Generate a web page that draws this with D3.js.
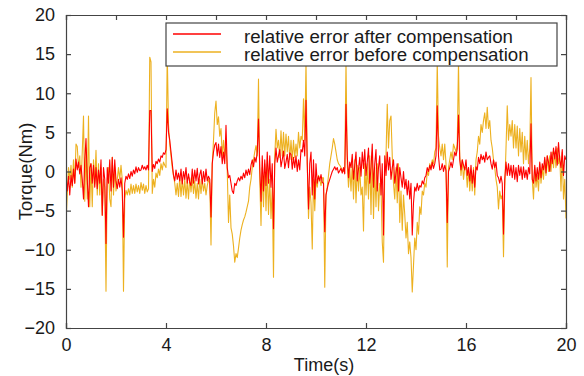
<!DOCTYPE html>
<html>
<head>
<meta charset="utf-8">
<script src="https://cdn.jsdelivr.net/npm/d3@7"></script>
<style>
  body { margin: 0; background: #fff; }
  text { font-family: "Liberation Sans", Arial, sans-serif; fill: #1a1a1a; }
</style>
</head>
<body>
<div class="grafico"></div>
<script>
// sampled every 0.05 s from 0 to 20 s, one row per second
const timeStep = 0.05;

const afterComp = [
  -0.5, -2.5, -0.6, -3.0, -0.5, -1.8, 0.3, -1.5, 1.6, 0.2, 1.2, -0.3, 0.8, -1.0, -3.5, 1.5, 4.2, -1.0, -4.5, 0.5,
  1.0, -1.5, 0.8, -2.0, 0.5, -2.2, 0.2, -1.5, 1.5, -5.6, 0.5, -1.0, -9.2, 0.5, -1.5, 1.5, -2.5, 1.8, -2.0, 1.5,
  -1.2, -2.2, -1.0, -2.0, -0.8, -2.5, -8.4, -1.5, -0.6, -1.0, -0.3, -0.9, 0.0, -0.6, 0.2, -0.3, 0.6, -0.1, 0.5, 0.1,
  0.2, 0.8, 0.3, 0.6, 0.2, 0.8, 0.2, 7.8, 7.8, 0.0, 0.9, 0.4, 1.3, 1.0, 1.6, 1.2, 2.0, 1.8, 2.4, 2.2,
  2.8, 8.0, 5.0, 4.0, 2.5, 1.0, -0.5, -1.2, 0.2, -1.0, -0.2, -1.2, 0.3, -1.6, 0.0, -1.0, 0.5, -1.5, -0.3, -1.4,
  -1.8, 0.3, -1.5, 0.2, -1.2, 0.4, -1.6, -0.4, 0.2, -1.6, 0.0, -1.3, 0.3, -1.2, -0.6, -1.0, -5.8, 1.0, 2.5, 3.4,
  3.7, 2.0, 3.5, 1.8, 3.2, 1.0, 2.5, 1.0, 5.9, 0.5, -0.8, -0.5, -1.5, -2.5, -2.8, -1.5, -1.8, -1.2, -0.8, -1.2,
  -0.6, -1.0, -0.2, -0.8, 0.2, -0.5, 0.3, -0.4, 0.8, 1.5, 0.6, 1.8, 1.2, 2.5, 6.7, 0.5, -3.8, 2.0, -2.5, 1.5,
  -1.8, 2.5, -1.5, 2.0, -2.0, 1.0, -7.3, 1.0, 3.0, 1.2, 2.0, 2.8, 0.6, 1.5, 2.6, 0.4, 1.2, 2.2, 0.5, 2.4,
  2.2, 0.3, 1.8, 0.5, 2.0, 0.0, 1.5, 0.2, 2.8, 2.5, 4.0, 2.0, 9.1, 1.0, -4.8, 1.0, 2.5, -3.0, 1.5, -3.5,
  1.0, -1.5, -0.6, -1.2, -0.4, -1.4, -1.5, -7.7, -3.0, -2.2, -1.5, -1.0, -0.5, 0.0, 0.3, 0.6, 0.2, 0.5, -0.2, 0.1,
  0.4, -0.2, 0.5, -0.3, 8.6, 2.0, -0.8, 1.2, 0.5, 2.2, -1.0, 0.8, 2.5, -1.2, 0.3, 1.8, -0.6, 2.5, 0.4, 2.8,
  -0.5, 1.2, 3.0, -1.5, 0.5, 3.5, -2.0, 1.0, 2.8, -2.5, 0.5, 2.0, -3.0, 1.0, -8.1, 2.0, -0.5, 2.5, 0.2, 1.8,
  -1.0, 0.5, 1.5, -1.5, -0.2, 1.0, -2.5, 0.5, -0.8, -2.0, 0.0, -2.2, -1.0, -3.0, -1.2, -3.5, -1.5, -8.1, -4.0, -2.0,
  -2.5, -1.5, -2.4, -1.8, -2.0, -1.2, -1.6, -0.8, -0.5, 0.5, 0.0, 0.8, 0.2, 1.2, 0.4, 1.0, 2.0, 8.4, 2.0, 0.2,
  0.3, 1.0, 0.0, 0.8, 0.1, -6.5, 0.0, 0.5, 1.2, 0.5, 1.5, 2.5, 2.0, 2.9, 7.2, 1.5, 0.2, 1.5, 0.8, 0.2,
  1.5, -0.5, 0.5, -1.2, 0.8, -1.5, 0.2, -2.0, 0.6, 0.2, 1.8, 1.0, 2.2, 1.5, 2.0, 1.2, 2.5, 1.5, 1.8, 2.0,
  1.0, 0.3, 1.5, 0.5, 1.2, -0.5, -0.8, -1.5, -0.6, -1.5, -8.0, -1.0, 1.2, -0.5, 1.0, -0.5, 0.8, -0.8, 0.8, -1.0,
  0.5, -1.3, 0.8, -0.5, 0.6, -1.0, 0.6, -0.8, 0.2, -1.0, 0.5, -0.3, 6.1, -1.0, -1.5, 0.8, -1.2, 0.5, -1.0, 1.2,
  -0.8, 1.0, 0.2, 1.8, -0.2, 2.0, 1.2, 0.0, 2.5, 1.0, 3.0, 1.6, 3.2, 0.8, 3.7, 1.5, 0.5, 2.8, -0.5, 2.0,
  1.5
];

const beforeComp = [
  -6.5, -3.0, 0.5, -1.0, 0.8, -2.0, 1.5, -1.5, 3.5, 3.2, 0.5, 2.0, -2.0, 2.5, 7.1, -3.8, 3.0, -3.5, 7.1, -4.5,
  1.0, -4.5, 1.5, -1.5, 2.7, -3.0, 1.0, -3.0, 0.5, -5.6, -1.0, -2.0, -15.3, -1.0, 0.5, -3.5, -4.5, 1.8, -3.0, 0.5,
  -2.5, -1.0, 0.5, -1.0, 0.8, -1.0, -15.3, -3.5, -2.4, -3.0, -2.2, -3.0, -1.6, -2.8, -1.8, -2.8, -1.6, -2.6, -1.8, -2.8,
  -1.4, -2.4, -1.6, -2.8, -1.8, -2.6, -2.2, 14.6, 14.0, -2.8, -1.0, -2.0, -0.2, -0.8, 0.3, -0.5, 1.0, 0.2, 1.2, 0.8,
  0.5, 15.0, 6.0, 3.5, 2.0, 0.5, -0.5, -1.5, -3.0, -1.5, -3.2, -0.8, -3.2, -1.0, -3.0, -1.0, -3.4, -1.2, -3.5, -0.8,
  -2.6, -0.8, -2.8, -1.2, -3.4, -1.5, -3.5, -1.0, -2.8, -1.0, -2.5, -1.5, -3.0, -1.8, -1.0, -1.5, -9.4, 1.0, 4.0, 7.5,
  9.0, 6.0, 7.0, 4.5, 5.5, 2.0, 4.0, 2.0, 3.5, 0.0, -6.5, -3.0, -7.2, -8.0, -9.5, -11.6, -10.5, -11.0, -9.8, -8.5,
  -7.5, -6.8, -6.2, -5.8, -5.2, -4.5, -3.8, -2.0, -1.0, 0.5, 1.5, 2.5, 3.3, 2.0, 11.8, -1.0, -6.9, 0.5, -4.5, 1.0,
  -5.0, 0.5, -5.5, -1.0, -6.0, -2.0, -13.5, 2.0, 5.4, 3.0, 4.0, 1.8, 5.2, 2.0, 5.0, 2.0, 4.8, 2.5, 4.5, 1.5,
  4.0, 1.5, 4.0, 1.8, 3.5, 2.0, 5.0, 3.0, 4.5, 4.0, 9.3, 4.0, 14.0, 1.0, -6.0, -2.0, -4.0, -9.9, -1.0, -5.0,
  -1.0, -2.0, -0.5, -1.0, -1.8, -0.8, -0.8, -14.8, -3.0, -2.0, -0.5, 1.0, 2.0, 3.0, 4.2, 3.5, 2.5, 1.5, 1.0, 0.8,
  0.5, 0.2, 0.0, 0.5, 14.0, 1.0, -2.0, 0.5, -2.5, 1.0, -3.5, 1.5, -4.0, 0.8, -2.5, 0.5, -3.0, -2.0, -7.6, 1.0,
  -3.0, 1.0, -3.5, 2.0, -5.5, 2.5, -6.0, 0.5, -4.5, 1.0, -5.0, -1.5, -2.0, -9.0, -11.6, 0.0, 2.0, 8.6, 3.0, 6.5,
  7.1, 2.0, -1.5, -3.5, 0.5, -4.0, 1.0, -6.5, -2.5, -7.5, -3.0, -5.5, -8.5, -6.5, -10.5, -9.0, -11.0, -15.4, -12.0, -8.5,
  -10.0, -6.5, -8.0, -4.5, -5.5, -2.5, -3.0, -1.5, -2.0, 0.0, -0.5, 1.0, 0.5, 1.5, 1.0, 2.5, 3.0, 14.0, 4.5, 3.0,
  2.0, 3.5, 1.5, 3.5, 1.0, -12.2, 0.5, 1.5, 2.5, 1.5, 3.5, 3.0, 2.5, 3.5, 14.0, 2.0, -0.5, 1.5, -1.0, 0.5,
  0.5, -2.0, 0.5, -2.5, 0.0, -2.5, 0.5, -3.0, 1.5, 2.5, 4.5, 3.5, 6.0, 5.0, 6.5, 7.5, 5.5, 8.2, 5.5, 6.5,
  4.0, 3.0, 1.5, 0.5, -1.0, -2.0, -4.8, -2.5, -3.5, -3.0, -10.9, -2.0, 3.0, 8.4, 4.0, 6.0, 4.5, 6.5, 3.0, 6.0,
  3.0, 5.8, 2.0, 5.5, 2.5, 5.0, 1.0, 4.5, 1.5, 4.0, 1.0, 3.0, 12.0, -1.0, -3.5, 0.5, -2.0, -0.5, -2.5, 1.0,
  -1.5, 0.5, -1.0, 1.5, -0.5, 2.0, 0.0, 2.0, 0.0, 2.5, 0.5, 2.5, 0.5, 3.0, 1.0, 2.0, -2.5, 2.5, -3.5, -1.0,
  -6.0
];

const seriesNames = ["relative error after compensation", "relative error before compensation"];
const xTicks = [0, 4, 8, 12, 16, 20];
const xMinorTicks = [0, 2, 4, 6, 8, 10, 12, 14, 16, 18, 20];
const yTicks = [-20, -15, -10, -5, 0, 5, 10, 15, 20];

const width = 584, height = 376;
const margin = { left: 66, top: 15, right: 18, bottom: 48 };
const iw = width - margin.left - margin.right;
const ih = height - margin.top - margin.bottom;

const svg = d3.select(".grafico")
    .append("svg")
    .attr("width", width)
    .attr("height", height);

const g = svg.append("g")
    .attr("transform", `translate(${margin.left}, ${margin.top})`);

const x = d3.scaleLinear().domain([0, 20]).range([0, iw]);
const y = d3.scaleLinear().domain([-20, 20]).range([ih, 0]);

svg.append("defs").append("clipPath")
    .attr("id", "clip")
    .append("rect")
    .attr("width", iw)
    .attr("height", ih);

const line = d3.line()
    .x((d, i) => x(i * timeStep))
    .y(d => y(d));

const plot = g.append("g").attr("clip-path", "url(#clip)");

plot.append("path")
    .datum(beforeComp)
    .attr("fill", "none")
    .attr("stroke", "#EDB120")
    .attr("stroke-width", 1.1)
    .attr("stroke-linejoin", "round")
    .attr("d", line);

plot.append("path")
    .datum(afterComp)
    .attr("fill", "none")
    .attr("stroke", "#FF0000")
    .attr("stroke-width", 1.1)
    .attr("stroke-linejoin", "round")
    .attr("d", line);

// axes, ticks point inward
const axisColor = "#444";
const tickFont = "18px";

const axBottom = g.append("g")
    .attr("transform", `translate(0, ${ih})`)
    .call(d3.axisBottom(x).tickValues(xTicks).tickSize(-5).tickPadding(10).tickFormat(d3.format("d")));
const axTop = g.append("g")
    .call(d3.axisTop(x).tickValues(xMinorTicks).tickSize(-5).tickFormat(""));
const axLeft = g.append("g")
    .call(d3.axisLeft(y).tickValues(yTicks).tickSize(-5).tickPadding(11).tickFormat(d3.format("d")));
const axRight = g.append("g")
    .attr("transform", `translate(${iw}, 0)`)
    .call(d3.axisRight(y).tickValues(yTicks).tickSize(-5).tickFormat(""));

[axBottom, axTop, axLeft, axRight].forEach(a => {
    a.select(".domain").attr("stroke", axisColor).attr("stroke-width", 1.2);
    a.selectAll(".tick line").attr("stroke", axisColor).attr("stroke-width", 1.2);
    a.selectAll("text")
        .style("font-size", tickFont)
        .style("font-family", '"Liberation Sans", Arial, sans-serif')
        .attr("fill", "#1a1a1a");
});
axBottom.selectAll("text").attr("dy", "0.72em");

g.append("text")
    .attr("x", 258)
    .attr("y", ih + 43)
    .attr("text-anchor", "middle")
    .style("font-size", "18px")
    .text("Time(s)");

g.append("text")
    .attr("transform", `translate(${-34}, ${ih / 2}) rotate(-90)`)
    .attr("text-anchor", "middle")
    .style("font-size", "18.5px")
    .text("Torque(Nm)");

// legend
const legend = g.append("g")
    .attr("transform", "translate(100, 8)");

legend.append("rect")
    .attr("width", 391)
    .attr("height", 43)
    .attr("fill", "#fff")
    .attr("stroke", axisColor)
    .attr("stroke-width", 1.2);

const legendColors = ["#FF0000", "#EDB120"];
seriesNames.forEach((name, i) => {
    const ly = 11 + i * 18;
    legend.append("line")
        .attr("x1", 7).attr("x2", 55)
        .attr("y1", ly).attr("y2", ly)
        .attr("stroke", legendColors[i])
        .attr("stroke-width", 1.3);
    legend.append("text")
        .attr("x", 78)
        .attr("y", ly + 8.5)
        .style("font-size", "18.7px")
        .text(name);
});
</script>
</body>
</html>
